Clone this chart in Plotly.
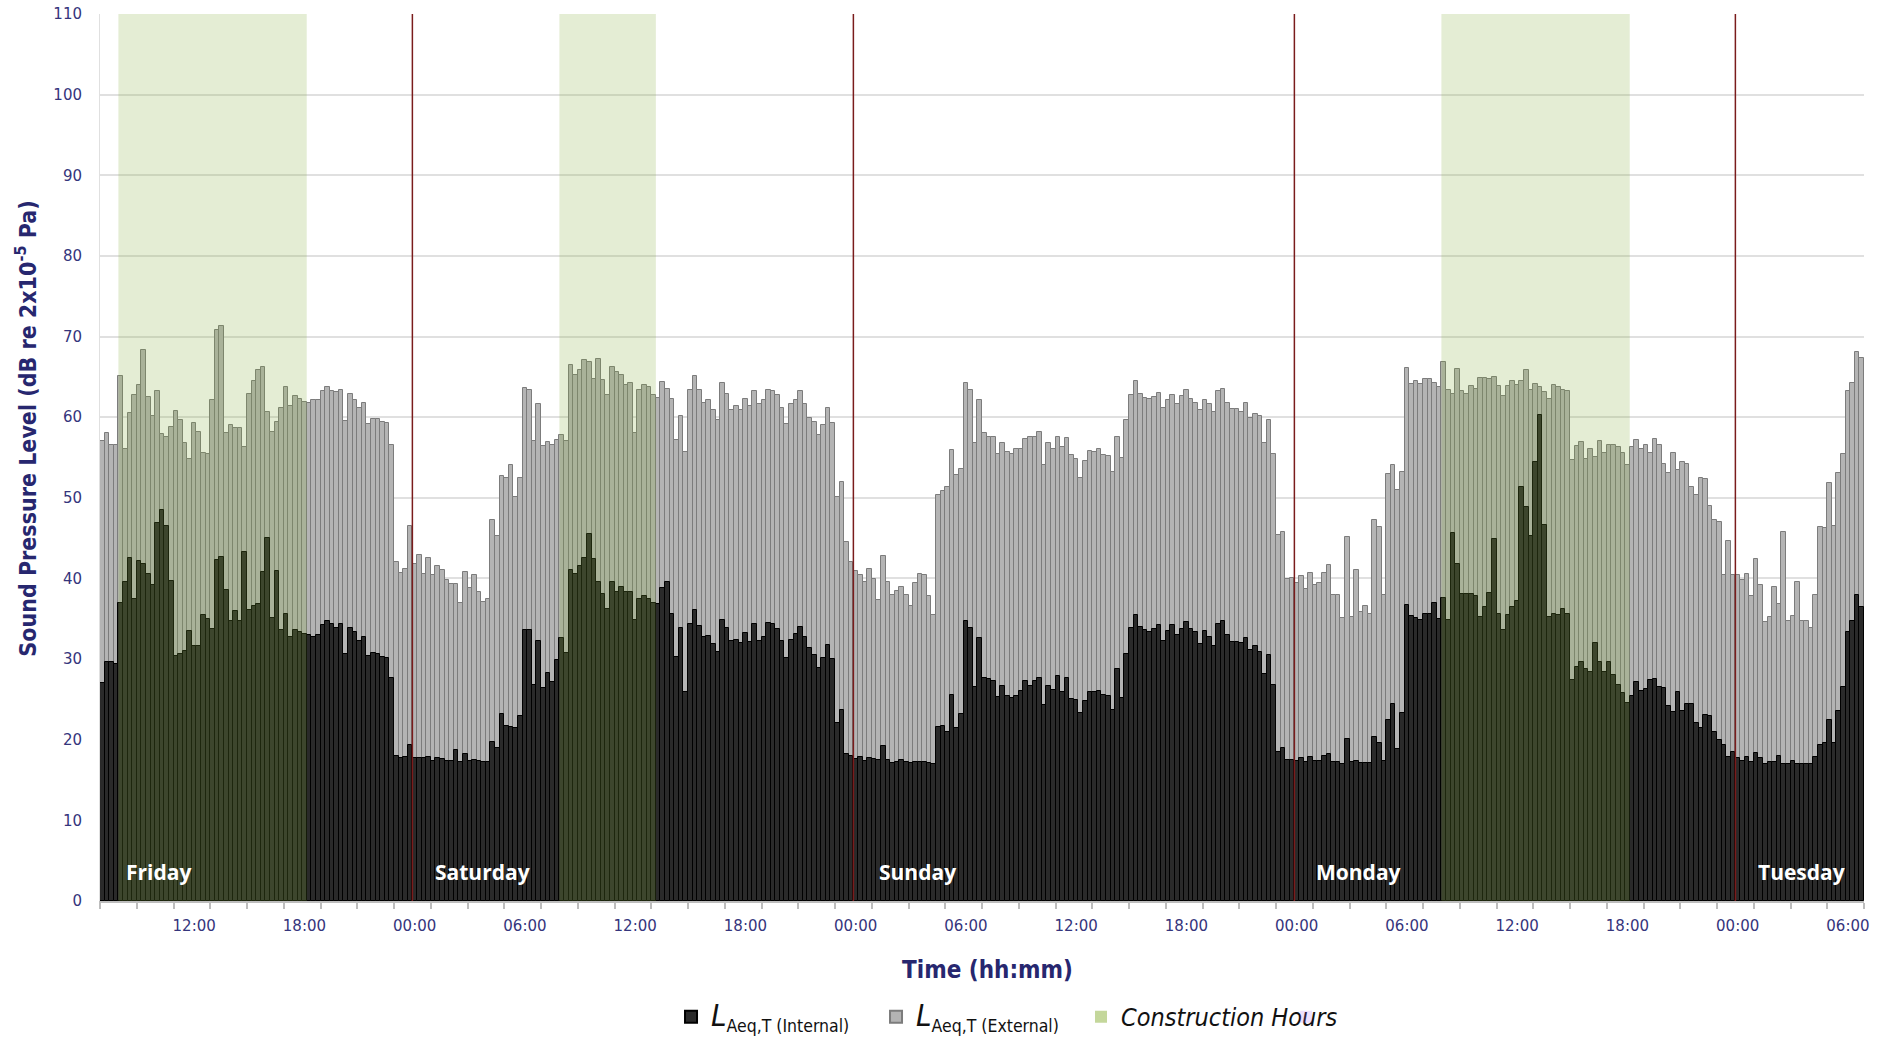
import numpy as np
import plotly.graph_objects as go

# ---------------- data (15-minute LAeq values, dB) ----------------
day_names = ["Friday", "Saturday", "Sunday", "Monday", "Tuesday"]
start_hour = 7.0      # first interval: Friday 07:00 (hours counted from Friday 00:00)
step_h = 0.25         # 15-minute intervals

internal_fri = [27.0, 29.6, 29.6, 29.4, 36.9, 39.5, 42.5, 37.4, 42.2, 41.8, 40.5, 39.2, 46.9, 48.5, 46.5, 39.7,
                30.4, 30.6, 31.0, 33.5, 31.6, 31.6, 35.5, 35.0, 33.7, 42.3, 42.7, 38.6, 34.7, 36.0, 34.7, 43.3,
                36.1, 36.6, 36.8, 40.8, 45.0, 35.1, 40.9, 33.6, 35.6, 32.7, 33.6, 33.3, 33.1, 33.0, 32.8, 33.0,
                34.2, 34.7, 34.3, 33.9, 34.3, 30.6, 33.8, 33.3, 32.3, 32.7, 30.4, 30.8, 30.6, 30.2, 30.1, 27.7,
                18.0, 17.7, 17.9, 19.3]
internal_sat = [17.7, 17.7, 17.7, 17.9, 17.4, 17.7, 17.6, 17.4, 17.4, 18.7, 17.2, 18.2, 17.4, 17.5, 17.4, 17.2,
                17.2, 19.7, 19.0, 23.2, 21.7, 21.6, 21.4, 23.0, 33.6, 33.6, 26.8, 32.3, 26.4, 28.3, 27.1, 29.9,
                32.6, 30.7, 41.0, 40.5, 41.6, 42.5, 45.5, 42.4, 39.5, 38.1, 36.2, 39.5, 38.3, 38.9, 38.3, 38.3,
                34.9, 37.4, 37.8, 37.5, 37.0, 36.8, 38.8, 39.6, 35.6, 30.2, 33.9, 25.9,
                34.3, 36.1, 34.1, 32.8, 32.9, 31.9, 30.9, 34.9, 33.8, 32.2, 32.4, 32.0, 33.2, 32.1, 34.3, 32.2,
                32.7, 34.5, 34.3, 33.7, 32.2, 30.1, 32.4, 33.1, 34.0, 32.7, 31.4, 30.5, 28.9, 30.1, 31.8, 30.0,
                22.1, 23.7, 18.2, 18.0]
internal_sun = [17.6, 17.8, 17.4, 17.7, 17.6, 17.5, 19.2, 17.5, 17.1, 17.2, 17.5, 17.2, 17.1, 17.2, 17.2, 17.2,
                17.1, 17.0, 21.6, 21.7, 21.0, 25.6, 21.5, 23.2, 34.7, 33.8, 26.5, 32.6,
                27.7, 27.5, 27.3, 25.3, 26.7, 25.4, 25.2, 25.4, 26.0, 27.3, 26.7, 27.3, 27.6, 24.3, 26.7, 26.2,
                27.9, 25.9, 27.7, 25.1, 24.9, 23.3, 24.8, 25.9, 25.9, 26.0, 25.6, 25.4, 23.7, 28.8, 25.2, 30.6,
                33.9, 35.5, 34.0, 33.6, 33.3, 33.7, 34.2, 32.3, 33.5, 34.2, 33.0, 33.7, 34.6, 33.7, 33.3, 31.9,
                33.5, 32.7, 31.6, 34.3, 34.7, 33.0, 32.1, 32.1, 32.0, 32.6, 31.1, 31.6, 30.9, 28.1, 30.5, 26.8,
                18.5, 19.0, 17.5, 17.5]
internal_mon = [17.4, 17.7, 17.3, 17.9, 17.4, 17.4, 18.0, 18.2, 17.2, 17.2, 17.0, 20.1, 17.2, 17.4, 17.1, 17.1,
                17.1, 20.4, 19.6, 17.4, 22.5, 24.4, 18.8, 23.3, 36.7, 35.4, 35.1, 34.8, 35.6, 35.6, 37.0, 35.0,
                37.6, 34.8, 45.6, 41.8, 38.1, 38.1, 38.1, 37.8, 35.2, 36.4, 38.2, 44.9, 35.6, 33.6, 35.5, 36.5,
                37.2, 51.4, 48.9, 45.3, 54.4, 60.3, 46.6, 35.2, 35.6, 35.5, 36.2, 35.6,
                27.4, 29.0, 29.6, 28.8, 28.4, 32.0, 29.7, 28.4, 29.7, 28.0, 26.8, 25.8, 24.5, 25.4, 27.1, 26.1,
                26.3, 27.4, 27.5, 26.6, 26.4, 24.2, 23.4, 25.9, 23.6, 24.4, 24.4, 22.1, 21.4, 23.1, 23.0, 20.9,
                20.0, 19.4, 17.8, 18.5]
internal_tue = [17.7, 17.4, 17.8, 17.2, 18.3, 17.7, 17.0, 17.2, 17.3, 18.0, 17.0, 17.0, 17.4, 17.0, 17.0, 17.0,
                17.0, 17.8, 19.3, 19.6, 22.5, 19.6, 23.6, 26.6, 33.4, 34.7, 37.9, 36.5]

external_fri = [57.1, 58.0, 56.5, 56.5, 65.1, 56.0, 60.5, 62.7, 64.0, 68.3, 62.5, 60.2, 63.2, 57.9, 57.5, 58.8,
                60.8, 59.6, 56.8, 54.8, 59.3, 58.2, 55.6, 55.4, 62.1, 70.8, 71.3, 58.1, 59.0, 58.7, 58.7, 56.3,
                62.9, 64.5, 65.9, 66.2, 60.7, 58.2, 59.4, 61.2, 63.8, 61.4, 62.6, 62.3, 61.9, 61.8, 62.1, 62.1,
                63.3, 63.7, 63.3, 63.1, 63.4, 59.5, 62.9, 62.1, 61.2, 61.8, 59.2, 59.8, 59.8, 59.4, 59.3, 56.5,
                42.1, 40.7, 41.2, 46.5]
external_sat = [41.8, 42.9, 40.5, 42.5, 40.4, 41.5, 41.1, 39.8, 39.3, 39.3, 36.9, 40.8, 38.8, 40.4, 38.3, 37.1,
                37.4, 47.2, 45.3, 52.7, 52.4, 54.1, 50.1, 52.4, 63.6, 63.4, 57.1, 61.6, 56.4, 56.9, 56.6, 57.2,
                57.8, 57.0, 66.5, 65.2, 65.9, 67.1, 66.9, 64.7, 67.2, 64.6, 62.7, 66.2, 65.6, 65.2, 64.0, 64.2,
                58.0, 63.4, 64.0, 63.7, 62.8, 62.4, 64.4, 63.5, 62.3, 57.2, 60.1, 55.7,
                63.4, 65.1, 63.4, 61.8, 62.1, 60.9, 59.6, 64.2, 62.9, 60.9, 61.4, 60.9, 62.3, 61.4, 63.2, 61.6,
                62.1, 63.4, 63.3, 62.8, 61.2, 59.1, 61.6, 62.1, 63.2, 61.6, 59.9, 59.4, 57.8, 59.0, 61.1, 59.3,
                50.1, 52.0, 44.5, 42.0]
external_sun = [40.9, 40.4, 39.5, 41.2, 39.9, 37.3, 42.8, 39.5, 37.9, 38.5, 39.0, 37.9, 36.6, 39.4, 40.5, 40.4,
                37.8, 35.5, 50.3, 50.8, 51.4, 55.9, 52.8, 53.6, 64.2, 63.4, 56.8, 62.1,
                58.1, 57.6, 57.6, 55.4, 56.8, 55.7, 55.4, 56.0, 56.1, 57.3, 57.5, 57.5, 58.2, 54.1, 56.8, 56.0,
                57.6, 56.3, 57.4, 55.3, 54.8, 52.5, 54.6, 55.8, 55.7, 56.0, 55.3, 55.2, 53.2, 57.5, 55.0, 59.7,
                62.7, 64.5, 62.9, 62.4, 62.2, 62.5, 63.0, 61.2, 62.1, 62.8, 61.6, 62.6, 63.4, 62.3, 61.8, 60.9,
                62.1, 61.6, 60.6, 63.2, 63.5, 61.8, 61.0, 61.0, 60.6, 61.8, 59.9, 60.4, 60.1, 56.8, 59.7, 55.4,
                45.4, 45.8, 39.9, 40.1]
external_mon = [39.4, 40.3, 38.7, 40.7, 39.2, 39.4, 40.7, 41.7, 38.0, 38.0, 35.1, 45.2, 35.2, 41.0, 35.9, 36.6,
                35.6, 47.2, 46.4, 37.9, 52.9, 54.1, 51.0, 53.2, 66.1, 64.1, 64.5, 64.1, 64.7, 64.7, 64.3, 63.7,
                66.9, 63.4, 62.9, 66.0, 63.2, 62.9, 63.9, 63.5, 64.9, 64.9, 64.7, 65.0, 63.9, 62.6, 63.9, 64.5,
                64.0, 64.5, 65.8, 63.4, 64.1, 63.7, 63.1, 62.3, 64.0, 63.8, 63.4, 63.3,
                54.7, 56.4, 56.9, 54.8, 56.0, 55.1, 57.0, 55.5, 56.6, 56.5, 56.3, 55.5, 54.1, 56.3, 57.2, 56.1,
                56.6, 55.6, 57.3, 56.6, 54.2, 53.1, 55.6, 53.5, 54.5, 54.2, 51.3, 50.4, 52.5, 52.3, 49.0, 47.2,
                47.0, 40.4, 44.7, 40.4]
external_tue = [40.4, 39.8, 40.5, 37.8, 42.4, 39.2, 34.6, 35.2, 38.9, 36.8, 45.8, 34.7, 35.4, 39.6, 34.7, 34.7,
                33.9, 37.9, 46.4, 46.2, 51.8, 46.5, 53.1, 55.4, 63.2, 64.3, 68.1, 67.3]

# construction hours (hours from Friday 00:00)
construction_start = [8.0, 32.0, 80.0]
construction_end = [18.25, 37.25, 90.25]

# ---------------- build ----------------
internal = internal_fri + internal_sat + internal_sun + internal_mon + internal_tue
external = external_fri + external_sat + external_sun + external_mon + external_tue
n = len(internal)
x = start_hour + step_h * (np.arange(n) + 0.5)
x_end = start_hour + step_h * n

tick_hours = list(range(12, int(x_end) + 1, 6))
tick_text = [f"{h % 24:02d}:00" for h in tick_hours]

NAVY = "#27276f"
TICK = "#35357c"
NARROW = "Liberation Sans Narrow, DejaVu Sans Condensed, Roboto, sans-serif"
L_SPAN = "<i><span style='font-size:31px'>L</span></i>"

fig = go.Figure()
fig.add_trace(go.Bar(
    x=x, y=external, width=step_h,
    marker=dict(color="#b4b4b4", line=dict(color="#7c7c7c", width=1)),
    name=L_SPAN + "<sub>Aeq,T (External)</sub>", legendrank=2))
fig.add_trace(go.Bar(
    x=x, y=internal, width=step_h,
    marker=dict(color="#2a2a2a", line=dict(color="#000000", width=1)),
    name=L_SPAN + "<sub>Aeq,T (Internal)</sub>", legendrank=1))
fig.add_trace(go.Scatter(
    x=[None], y=[None], mode="markers",
    marker=dict(symbol="square", size=13, color="#c4d79b"),
    name="<i>Construction Hours</i>", legendrank=3))
fig.add_trace(go.Scatter(
    x=[None], y=[None], mode="markers",
    marker=dict(symbol="square", size=1, opacity=0),
    name=" ", legendrank=4, hoverinfo="skip"))

for s, e in zip(construction_start, construction_end):
    fig.add_shape(type="rect", xref="x", yref="y", x0=s, x1=e, y0=0, y1=110,
                  fillcolor="rgba(130,175,60,0.22)", line=dict(width=0), layer="above")

for d in range(1, len(day_names)):
    fig.add_shape(type="line", xref="x", yref="y", x0=24 * d, x1=24 * d, y0=0, y1=110,
                  line=dict(color="#7a1c1c", width=1.5), layer="above")

day_label_x = [10.2, 27.8, 51.5, 75.5, 99.6]
for name, xl in zip(day_names, day_label_x):
    fig.add_annotation(x=xl, y=3.6, xref="x", yref="y", text=f"<b>{name}</b>", showarrow=False,
                       font=dict(family="Open Sans, Roboto, sans-serif", size=21, color="white"))

# axis titles as annotations (placed like the reference)
fig.add_annotation(text="<b>Sound Pressure Level (dB re 2x10<sup>-5</sup> Pa)</b>",
                   xref="paper", yref="paper", x=-0.0417, y=0.533, xanchor="center", yanchor="middle",
                   textangle=-90, showarrow=False, font=dict(family=NARROW, size=23, color=NAVY))
fig.add_annotation(text="<b>Time (hh:mm)</b>",
                   xref="paper", yref="paper", x=0.5034, y=-0.078, xanchor="center", yanchor="middle",
                   showarrow=False, font=dict(family=NARROW, size=24, color=NAVY))

fig.update_layout(
    width=1887, height=1042,
    margin=dict(l=100, r=23, t=14, b=141, autoexpand=False),
    paper_bgcolor="white", plot_bgcolor="white",
    barmode="overlay", bargap=0,
    showlegend=True,
    legend=dict(orientation="h", xref="container", yref="container",
                x=0.3556, xanchor="left", y=0.024, yanchor="middle",
                font=dict(family=NARROW, size=25, color="#111111"), entrywidth=160,
                itemsizing="constant", bgcolor="rgba(0,0,0,0)"),
    xaxis=dict(range=[start_hour, x_end], tickmode="array", automargin=False,
               tickvals=[h + step_h / 2 for h in tick_hours], ticktext=tick_text,
               ticks="", showgrid=False, zeroline=False,
               showline=True, linecolor="#bdbdbd", linewidth=1.5,
               tickfont=dict(family="DejaVu Sans, sans-serif", size=15, color=TICK),
               ticklabelstandoff=10,
               minor=dict(tickmode="linear", tick0=start_hour, dtick=2, ticks="outside",
                          ticklen=6, tickcolor="#bdbdbd", tickwidth=1.5, showgrid=False)),
    yaxis=dict(range=[0, 110], tickmode="linear", tick0=0, dtick=10, automargin=False,
               showgrid=True, gridcolor="#e0e0e0", gridwidth=1.5, zeroline=False,
               showline=True, linecolor="#e0e0e0", ticks="",
               tickfont=dict(family="DejaVu Sans, sans-serif", size=15, color=TICK),
               ticklabelstandoff=14),
)

fig.write_html("out.html", config={"displayModeBar": False},
               post_script="document.body.style.margin='0';document.body.style.overflow='hidden';")
